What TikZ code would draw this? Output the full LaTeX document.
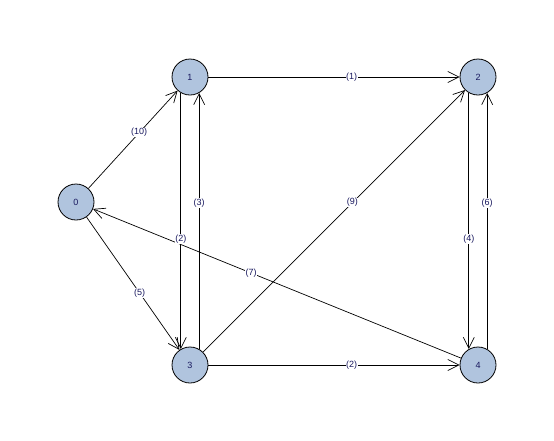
\documentclass[tikz,border=0pt]{standalone}
\usepackage{fontspec}
\setmainfont{Liberation Sans}
\usetikzlibrary{arrows.meta}
\definecolor{vfill}{RGB}{176,196,222}
\definecolor{labnavy}{RGB}{25,25,95}
\begin{document}
\begin{tikzpicture}[x=1pt, y=-1pt, >={Straight Barb[length=11pt,width=11pt]},
    every node/.style={font=\fontsize{9}{10}\selectfont, text=labnavy},
    vertex/.style={circle, draw=black, fill=vfill, line width=0.8pt, minimum size=36pt, inner sep=0pt},
    edgelab/.style={fill=white, inner sep=0.5pt}]
        % Canvas (same size as the reference, y grows downwards)
        \useasboundingbox (0,0) rectangle (554,440);

        % Vertices
        \node[vertex] (v0) at (76,202) {0};
        \node[vertex] (v1) at (190,77) {1};
        \node[vertex] (v2) at (478,77) {2};
        \node[vertex] (v3) at (190,365) {3};
        \node[vertex] (v4) at (478,365) {4};

        % Single edges: source/target/weight
        \foreach \s/\t/\w in {v0/v1/10, v0/v3/5, v1/v2/1, v3/v2/9, v3/v4/2, v4/v0/7} {
            \draw[->, line width=0.7pt] (\s) -- node[edgelab, pos=0.57] {(\w)} (\t);
        }

        % Mutual edges, drawn side by side
        \draw[->, line width=0.7pt] (v1.240) -- node[edgelab, pos=0.57] {(2)} (v3.120);
        \draw[->, line width=0.7pt] (v3.60) -- node[edgelab, pos=0.57] {(3)} (v1.300);
        \draw[->, line width=0.7pt] (v2.240) -- node[edgelab, pos=0.57] {(4)} (v4.120);
        \draw[->, line width=0.7pt] (v4.60) -- node[edgelab, pos=0.57] {(6)} (v2.300);
    \end{tikzpicture}
\end{document}
